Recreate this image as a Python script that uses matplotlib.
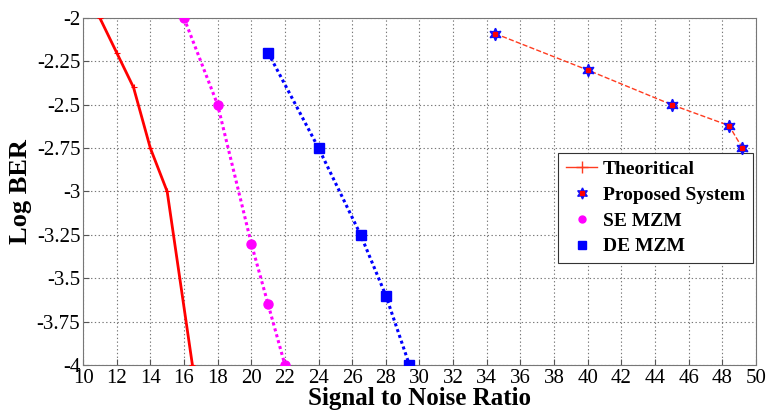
import matplotlib
matplotlib.use("Agg")
import matplotlib.pyplot as plt
from matplotlib.lines import Line2D
import numpy as np

# data
theory_snr = [11, 12, 13, 14, 15, 16.5]
theory_ber = [-2.0, -2.2, -2.4, -2.75, -3.0, -4.0]

proposed_snr = [34.5, 40, 45, 48.4, 49.2]
proposed_ber = [-2.09, -2.30, -2.50, -2.62, -2.75]

se_snr = [16, 18, 20, 21, 22]
se_ber = [-2.0, -2.5, -3.3, -3.65, -4.0]

de_snr = [21, 24, 26.5, 28, 29.4]
de_ber = [-2.2, -2.75, -3.25, -3.6, -4.0]

xticks = np.arange(10, 51, 2)
yticks = [-2, -2.25, -2.5, -2.75, -3, -3.25, -3.5, -3.75, -4]
ytick_labels = ["-2", "-2.25", "-2.5", "-2.75", "-3", "-3.25", "-3.5", "-3.75", "-4"]

plt.rcParams["font.family"] = "Liberation Serif"

fig = plt.figure(figsize=(7.69, 4.19), dpi=100)
ax = fig.add_axes([0.108, 0.129, 0.875, 0.828])

# thick theoretical curve on the left
ax.plot(theory_snr, theory_ber, color="#ff0000", lw=2.0, marker="+",
        markersize=4, markeredgewidth=0.8, zorder=3)

# thin theoretical line through the proposed points
ax.plot(proposed_snr, proposed_ber, color="#ff3b1f", lw=1.0, ls="--",
        marker="+", markersize=5, markeredgewidth=0.8, zorder=3)

# proposed system: blue hexagram with red centre
ax.plot(proposed_snr, proposed_ber, ls="none", marker=(6, 1, 0),
        markersize=9, color="#1010ff", zorder=6)
ax.plot(proposed_snr, proposed_ber, ls="none", marker="s",
        markersize=3.5, color="#ff0000", zorder=7)

ax.plot(se_snr, se_ber, color="#ff00ff", lw=2.2, ls=(0, (1, 1)),
        marker="o", markersize=6.5, zorder=3)
ax.plot(de_snr, de_ber, color="#0000ff", lw=2.2, ls=(0, (1, 1)),
        marker="s", markersize=7, zorder=3)

ax.set_xlim(10, 50)
ax.set_ylim(-4, -2)
ax.set_xticks(xticks)
ax.set_yticks(yticks)
ax.set_yticklabels(ytick_labels)
ax.tick_params(direction="in", length=4, labelsize=15, color="#555555", pad=2)
ax.tick_params(axis="x", pad=3)
ax.grid(True, ls=(0, (1.2, 2.2)), color="#777777", lw=0.8)
for sp in ax.spines.values():
    sp.set_color("#777777")

ax.set_xlabel("Signal to Noise Ratio", fontsize=18, fontweight="bold", labelpad=-1)
ax.set_ylabel("Log BER", fontsize=19, fontweight="bold", labelpad=3)

h_theory = Line2D([], [], color="#ff3b1f", lw=1.0, marker="+", markersize=8)
h_prop = (Line2D([], [], ls="none", marker=(6, 1, 0), markersize=8, color="#1010ff"),
          Line2D([], [], ls="none", marker="s", markersize=3, color="#ff0000"))
h_se = Line2D([], [], ls="none", marker="o", markersize=5, color="#ff00ff")
h_de = Line2D([], [], ls="none", marker="s", markersize=6, color="#0000ff")
leg = ax.legend([h_theory, h_prop, h_se, h_de],
                ["Theoritical", "Proposed System", "SE MZM", "DE MZM"],
                loc="upper right", bbox_to_anchor=(0.9955, 0.612),
                borderaxespad=0,
                prop={"weight": "bold", "size": 14}, fancybox=False,
                edgecolor="#333333", framealpha=1, borderpad=0.4,
                labelspacing=0.42, handlelength=1.6, handletextpad=0.3)
leg.get_frame().set_linewidth(0.8)
leg.set_zorder(5)

fig.savefig("out.png", dpi=100, facecolor="white")
